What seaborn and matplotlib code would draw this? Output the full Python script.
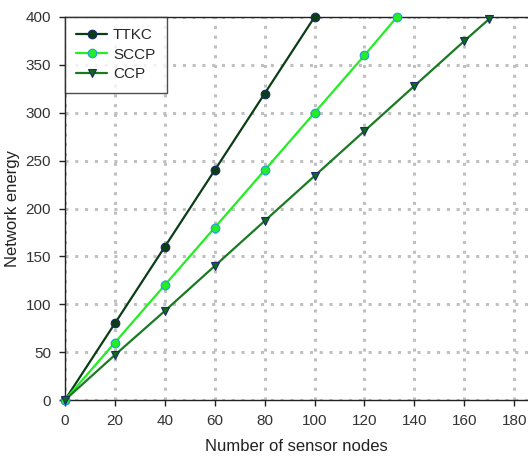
import matplotlib
matplotlib.use("Agg")
import matplotlib.pyplot as plt
import seaborn as sns
import pandas as pd

ttkc_x = [0, 20, 40, 60, 80, 100]
ttkc_y = [0, 80, 160, 240, 320, 400]
sccp_x = [0, 20, 40, 60, 80, 100, 120, 133]
sccp_y = [0, 60, 120, 180, 240, 300, 360, 400]
ccp_x = [0, 20, 40, 60, 80, 100, 120, 140, 160, 170]
ccp_y = [0, 47, 93, 140, 187, 234, 281, 328, 375, 398]
x_ticks = [0, 20, 40, 60, 80, 100, 120, 140, 160, 180]
y_ticks = [0, 50, 100, 150, 200, 250, 300, 350, 400]

sns.set_theme(style="white")
plt.rcParams['font.family'] = ['Liberation Sans', 'DejaVu Sans']

fig = plt.figure(figsize=(5.28, 4.59), dpi=100)
ax = fig.add_axes([0.123, 0.1285, 0.877, 0.8345])

series = [
    ("TTKC", ttkc_x, ttkc_y, "#0b3d16", "o", "#0b3d16", "#1a2a6a"),
    ("SCCP", sccp_x, sccp_y, "#22ee22", "o", "#22ee22", "#1aa0e0"),
    ("CCP", ccp_x, ccp_y, "#1a7a22", "v", "#0f6a18", "#1a2a6a"),
]
for name, xs, ys, lc, mk, mfc, mec in series:
    df = pd.DataFrame({"x": xs, "y": ys})
    sns.lineplot(data=df, x="x", y="y", ax=ax, color=lc, linewidth=1.6,
                 marker=mk, markersize=6.2, markerfacecolor=mfc,
                 markeredgecolor=mec, markeredgewidth=0.8, label=name,
                 clip_on=False, zorder=3)

ax.set_xlim(0, 185.5)
ax.set_ylim(0, 400)
ax.set_xticks(x_ticks)
ax.set_yticks(y_ticks)
ax.grid(True, color="#c0c0c0", linestyle=(0, (1, 2.2)), linewidth=2.2)
ax.set_axisbelow(True)
for s in ["left", "bottom", "top"]:
    ax.spines[s].set_color("#222222")
    ax.spines[s].set_linewidth(1.0)
ax.spines["right"].set_visible(False)
ax.tick_params(axis="both", direction="out", length=4, width=1, color="#222222",
               labelsize=11, labelcolor="#333333", bottom=True, left=True, pad=6)
ax.set_xlabel("Number of sensor nodes", fontsize=12, color="#222222", labelpad=8)
ax.set_ylabel("Network energy", fontsize=12, color="#222222", labelpad=4)

leg = ax.legend(loc="upper left", frameon=True, fancybox=False, fontsize=11,
                borderaxespad=0, handlelength=2.0, handletextpad=0.4,
                borderpad=0.75, labelspacing=0.35)
leg.get_frame().set_edgecolor("#222222")
leg.get_frame().set_linewidth(1.0)

fig.savefig("out.png", dpi=100)
